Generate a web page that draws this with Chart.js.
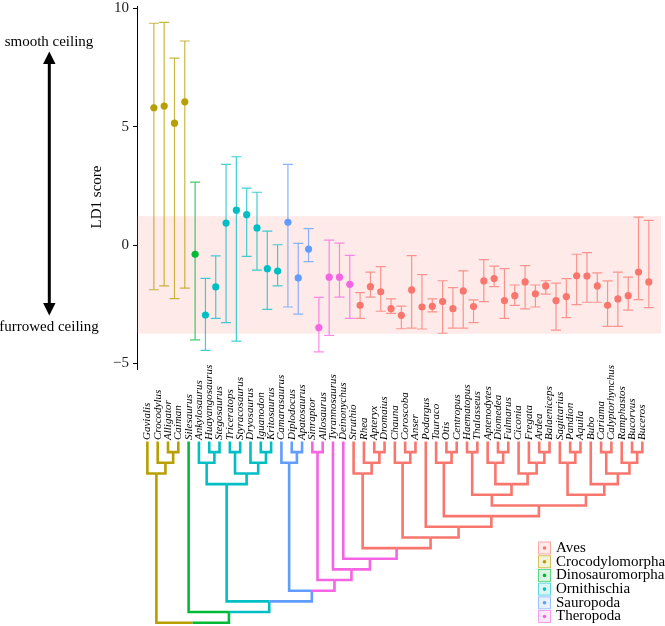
<!DOCTYPE html>
<html>
<head>
<meta charset="utf-8">
<script src="https://cdn.jsdelivr.net/npm/chart.js@4.4.0/dist/chart.umd.min.js"></script>
<style>
  html, body { margin: 0; padding: 0; background: #fff; }
  #wrap { position: relative; width: 665px; height: 626px; }
</style>
</head>
<body>
<div id="wrap"><canvas id="ld1Chart"></canvas></div>
<script>
// taxa in tree order, left to right
const taxa = [
  'Gavialis', 'Crocodylus', 'Alligator', 'Caiman',
  'Silesaurus',
  'Ankylosaurus', 'Huayangosaurus', 'Stegosaurus', 'Triceratops', 'Styracosaurus', 'Dryosaurus', 'Iguanodon', 'Kritosaurus',
  'Camarasaurus', 'Diplodocus', 'Apatosaurus',
  'Sinraptor', 'Allosaurus', 'Tyrannosaurus', 'Deinonychus',
  'Struthio', 'Rhea', 'Apteryx', 'Dromaius', 'Chauna', 'Coroscoba', 'Anser', 'Podargus', 'Tauraco', 'Otis',
  'Centropus', 'Haematopus', 'Thalasseus', 'Aptenodytes', 'Diomedea', 'Fulmarus', 'Ciconia', 'Fregata', 'Ardea',
  'Balaeniceps', 'Sagittarius', 'Pandion', 'Aquila', 'Bubo', 'Cariama', 'Calyptorhynchus', 'Ramphastos', 'Bucorvus', 'Buceros'
];

const taxonGroup = [
  'Crocodylomorpha', 'Crocodylomorpha', 'Crocodylomorpha', 'Crocodylomorpha',
  'Dinosauromorpha',
  'Ornithischia', 'Ornithischia', 'Ornithischia', 'Ornithischia', 'Ornithischia', 'Ornithischia', 'Ornithischia', 'Ornithischia',
  'Sauropoda', 'Sauropoda', 'Sauropoda',
  'Theropoda', 'Theropoda', 'Theropoda', 'Theropoda',
  'Aves', 'Aves', 'Aves', 'Aves', 'Aves', 'Aves', 'Aves', 'Aves', 'Aves', 'Aves',
  'Aves', 'Aves', 'Aves', 'Aves', 'Aves', 'Aves', 'Aves', 'Aves', 'Aves',
  'Aves', 'Aves', 'Aves', 'Aves', 'Aves', 'Aves', 'Aves', 'Aves', 'Aves', 'Aves'
];

const ld1Mean = [
  5.80, 5.87, 5.15, 6.05,
  -0.39,
  -2.96, -1.77, 0.93, 1.47, 1.28, 0.72, -1.00, -1.10,
  0.96, -1.39, -0.17,
  -3.49, -1.36, -1.36, -1.66,
  -2.55, -1.76, -1.98, -2.69, -2.97, -1.90, -2.62, -2.59, -2.39, -2.69,
  -1.94, -2.60, -1.52, -1.42, -2.35, -2.14, -1.56, -2.06, -1.73,
  -2.35, -2.18, -1.30, -1.31, -1.73, -2.55, -2.28, -2.14, -1.14, -1.56
];
const ld1Low = [
  -1.89, -1.73, -2.27, -1.82,
  -4.01,
  -4.45, -3.10, -3.28, -4.06, -0.48, -1.06, -2.72, -1.73,
  -2.62, -2.92, -0.70,
  -4.52, -3.82, -2.20, -3.10,
  -3.10, -2.20, -2.80, -2.89, -3.54, -3.51, -3.55, -2.83, -3.73, -3.51,
  -3.51, -3.28, -2.39, -1.76, -3.10, -2.55, -2.70, -2.62, -2.08,
  -3.60, -3.07, -2.52, -2.42, -2.42, -3.44, -3.44, -2.75, -2.31, -2.65
];
const ld1High = [
  9.37, 9.41, 7.90, 8.62,
  2.66,
  -1.41, -0.46, 3.41, 3.73, 2.40, 2.23, 0.59, 0.01,
  3.41, 0.07, 0.69,
  -2.21, 0.21, 0.08, -0.44,
  -2.01, -1.15, -0.91, -2.28, -2.58, -0.45, -1.25, -2.28, -1.51, -1.80,
  -1.09, -2.32, -0.62, -0.89, -1.00, -1.69, -0.87, -1.69, -1.51,
  -1.61, -1.42, -0.39, -0.32, -1.18, -1.52, -1.15, -1.36, 1.18, 1.04
];

const groups = ['Aves', 'Crocodylomorpha', 'Dinosauromorpha', 'Ornithischia', 'Sauropoda', 'Theropoda'];
const groupColors = ['#F8766D', '#B79F00', '#00BA38', '#00BFC4', '#619CFF', '#F564E3'];
const yTicks = [-5, 0, 5, 10];
const bandRange = [-3.75, 1.22];   // shaded range of the modern birds

// phylogeny as nested pairs, same leaf order as taxa
const waterbirds = [['Aptenodytes', ['Diomedea', 'Fulmarus']], ['Ciconia', ['Fregata', ['Ardea', 'Balaeniceps']]]];
const telluraves = [['Sagittarius', ['Pandion', 'Aquila']], ['Bubo', [['Cariama', 'Calyptorhynchus'], ['Ramphastos', ['Bucorvus', 'Buceros']]]]];
const neoaves = ['Podargus', [['Tauraco', ['Otis', 'Centropus']], [[['Haematopus', 'Thalasseus'], waterbirds], telluraves]]];
const aves = [['Struthio', ['Rhea', ['Apteryx', 'Dromaius']]], [['Chauna', ['Coroscoba', 'Anser']], neoaves]];
const ornithischia = [['Ankylosaurus', ['Huayangosaurus', 'Stegosaurus']], [['Triceratops', 'Styracosaurus'], ['Dryosaurus', ['Iguanodon', 'Kritosaurus']]]];
const saurischia = [['Camarasaurus', ['Diplodocus', 'Apatosaurus']], [['Sinraptor', 'Allosaurus'], ['Tyrannosaurus', ['Deinonychus', aves]]]];
const tree = [['Gavialis', ['Crocodylus', ['Alligator', 'Caiman']]], ['Silesaurus', [ornithischia, saurischia]]];
// stem colour of a clade, when it is not the group of its first leaf
const stemGroupOverride = { 'Struthio-Buceros': 'Theropoda' };

const SERIF = "'Liberation Serif', 'Times New Roman', serif";

function colorOf(group) {
  return groupColors[groups.indexOf(group)];
}

function withAlpha(hex, a) {
  const n = parseInt(hex.slice(1), 16);
  return 'rgba(' + (n >> 16) + ',' + ((n >> 8) & 255) + ',' + (n & 255) + ',' + a + ')';
}

function layoutTree(node, leafX) {
  if (typeof node === 'string') {
    return { x: leafX(node), h: 0, first: node, last: node, kids: [] };
  }
  const kids = node.map(n => layoutTree(n, leafX));
  return {
    x: (kids[0].x + kids[kids.length - 1].x) / 2,
    h: Math.max(...kids.map(k => k.h)) + 1,
    first: kids[0].first,
    last: kids[kids.length - 1].last,
    kids: kids
  };
}

function nodeGroup(node) {
  const key = node.first + '-' + node.last;
  if (node.kids.length && stemGroupOverride[key]) return stemGroupOverride[key];
  return taxonGroup[taxa.indexOf(node.first)];
}

function drawBranches(ctx, node, yOf) {
  node.kids.forEach(k => {
    ctx.strokeStyle = colorOf(nodeGroup(k));
    ctx.beginPath();
    ctx.moveTo(k.x, yOf(k.h));
    ctx.lineTo(k.x, yOf(node.h));
    ctx.lineTo(node.x, yOf(node.h));
    ctx.stroke();
    drawBranches(ctx, k, yOf);
  });
}

// band + error bars under the points
const errorBarPlugin = {
  id: 'errorBars',
  beforeDatasetsDraw(chart) {
    const { ctx, chartArea, scales: { x, y } } = chart;
    ctx.save();
    const bTop = y.getPixelForValue(bandRange[1]);
    const bBot = y.getPixelForValue(bandRange[0]);
    ctx.fillStyle = withAlpha(groupColors[0], 0.15);
    ctx.fillRect(chartArea.left, bTop, chartArea.right - chartArea.left, bBot - bTop);

    ctx.lineWidth = 1.2;
    taxa.forEach((t, i) => {
      const px = x.getPixelForValue(i);
      const top = y.getPixelForValue(ld1High[i]);
      const bot = y.getPixelForValue(ld1Low[i]);
      ctx.strokeStyle = withAlpha(colorOf(taxonGroup[i]), 0.75);
      ctx.beginPath();
      ctx.moveTo(px, top); ctx.lineTo(px, bot);
      ctx.moveTo(px - 5, top); ctx.lineTo(px + 5, top);
      ctx.moveTo(px - 5, bot); ctx.lineTo(px + 5, bot);
      ctx.stroke();
    });
    ctx.restore();
  }
};

// axis title, arrow, taxon labels, tree and legend
const decorPlugin = {
  id: 'decor',
  afterDraw(chart) {
    const { ctx, scales: { x } } = chart;
    ctx.save();

    // y title
    ctx.fillStyle = '#000';
    ctx.font = '15px ' + SERIF;
    ctx.textAlign = 'center';
    ctx.textBaseline = 'middle';
    ctx.save();
    ctx.translate(97.5, 197);
    ctx.rotate(-Math.PI / 2);
    ctx.fillText('LD1 score', 0, 0);
    ctx.restore();

    // smooth / furrowed arrow
    ctx.fillText('smooth ceiling', 49, 42);
    ctx.fillText('furrowed ceiling', 49, 327);
    ctx.strokeStyle = '#000';
    ctx.lineWidth = 3;
    ctx.beginPath();
    ctx.moveTo(49.3, 60); ctx.lineTo(49.3, 307);
    ctx.stroke();
    ctx.beginPath();
    ctx.moveTo(49.3, 51.5); ctx.lineTo(55.5, 64); ctx.lineTo(43.1, 64); ctx.closePath();
    ctx.moveTo(49.3, 315.5); ctx.lineTo(55.5, 303); ctx.lineTo(43.1, 303); ctx.closePath();
    ctx.fill();

    // taxon labels, read upwards from the tree tips
    const leafX = name => x.getPixelForValue(taxa.indexOf(name)) - 6.5;
    ctx.font = 'italic 11px ' + SERIF;
    ctx.textAlign = 'left';
    taxa.forEach(name => {
      ctx.save();
      ctx.translate(leafX(name), 440);
      ctx.rotate(-Math.PI / 2);
      ctx.fillText(name, 0, 0);
      ctx.restore();
    });

    // tree
    const root = layoutTree(tree, leafX);
    const tipY = 441.5, rootY = 622.7;
    const yOf = h => tipY + (rootY - tipY) * h / root.h;
    ctx.lineWidth = 2.6;
    ctx.lineJoin = 'miter';
    ctx.lineCap = 'butt';
    drawBranches(ctx, root, yOf);

    // legend
    ctx.font = '15px ' + SERIF;
    ctx.textBaseline = 'middle';
    groups.forEach((g, k) => {
      const cy = 548 + k * 13.7;
      const c = groupColors[k];
      ctx.fillStyle = withAlpha(c, 0.15);
      ctx.fillRect(538.5, cy - 6, 12, 12);
      ctx.strokeStyle = withAlpha(c, 0.6);
      ctx.lineWidth = 1;
      ctx.strokeRect(538.5, cy - 6, 12, 12);
      ctx.fillStyle = c;
      ctx.beginPath();
      ctx.arc(544.5, cy, 1.8, 0, Math.PI * 2);
      ctx.fill();
      ctx.fillStyle = '#000';
      ctx.fillText(g, 556, cy);
    });

    ctx.restore();
  }
};

const datasets = groups.map((g, k) => ({
  label: g,
  data: taxa.map((t, i) => i).filter(i => taxonGroup[i] === g).map(i => ({ x: i, y: ld1Mean[i] })),
  backgroundColor: groupColors[k],
  borderWidth: 0,
  pointRadius: 3.6
}));

new Chart(document.getElementById('ld1Chart').getContext('2d'), {
  type: 'scatter',
  data: { datasets: datasets },
  options: {
    responsive: true,
    maintainAspectRatio: false,
    animation: false,
    events: [],
    layout: { padding: { top: 6, bottom: 257, left: 0, right: 0 } },
    plugins: { legend: { display: false }, tooltip: { enabled: false } },
    scales: {
      x: { type: 'linear', display: false, min: -1.636, max: 49.18 },
      y: {
        type: 'linear',
        min: -5.24,
        max: 10.1,
        afterBuildTicks: s => { s.ticks = yTicks.map(v => ({ value: v })); },
        afterFit: s => { s.width = 137; s.paddingTop = 0; s.paddingBottom = 0; },
        border: { display: true, color: '#000', width: 1 },
        grid: { drawOnChartArea: false, drawTicks: true, tickLength: 4, color: '#000' },
        ticks: {
          color: '#222',
          padding: 4,
          font: { family: SERIF, size: 15 },
          callback: v => (v < 0 ? '\u2212' + Math.abs(v) : String(v))
        }
      }
    }
  },
  plugins: [errorBarPlugin, decorPlugin]
});
</script>
</body>
</html>
